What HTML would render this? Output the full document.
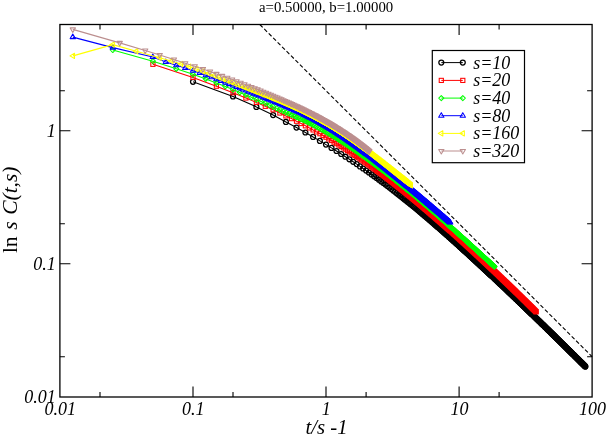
<!DOCTYPE html>
<html><head><meta charset="utf-8"><title>plot</title>
<style>html,body{margin:0;padding:0;background:#fff}body{width:607px;height:436px;overflow:hidden}svg{display:block;will-change:transform}text{font-family:"Liberation Serif",serif;fill:#000}.i{font-style:italic}</style></head><body>
<svg width="607" height="436" viewBox="0 0 607 436">
<rect width="607" height="436" fill="#fff"/>
<defs>
<marker id="mc" markerUnits="userSpaceOnUse" markerWidth="12" markerHeight="12" refX="0" refY="0" viewBox="-6 -6 12 12" overflow="visible"><circle r="2.45" fill="none" stroke="#000" stroke-width="1.3"/></marker>
<marker id="ms" markerUnits="userSpaceOnUse" markerWidth="12" markerHeight="12" refX="0" refY="0" viewBox="-6 -6 12 12" overflow="visible"><rect x="-2.08" y="-2.08" width="4.17" height="4.17" fill="none" stroke="#f00" stroke-width="1.05"/></marker>
<marker id="md" markerUnits="userSpaceOnUse" markerWidth="12" markerHeight="12" refX="0" refY="0" viewBox="-6 -6 12 12" overflow="visible"><path d="M0 -2.55L-2.55 0L0 2.55L2.55 0Z" stroke-linejoin="round" fill="none" stroke="#0f0" stroke-width="1.05"/></marker>
<marker id="mu" markerUnits="userSpaceOnUse" markerWidth="12" markerHeight="12" refX="0" refY="0" viewBox="-6 -6 12 12" overflow="visible"><path d="M0 -3.06L-2.65 1.53L2.65 1.53Z" stroke-linejoin="round" fill="none" stroke="#00f" stroke-width="1.05"/></marker>
<marker id="ml" markerUnits="userSpaceOnUse" markerWidth="12" markerHeight="12" refX="0" refY="0" viewBox="-6 -6 12 12" overflow="visible"><path d="M-3.06 0L1.53 -2.65L1.53 2.65Z" stroke-linejoin="round" fill="none" stroke="#ff0" stroke-width="1.05"/></marker>
<marker id="mn" markerUnits="userSpaceOnUse" markerWidth="12" markerHeight="12" refX="0" refY="0" viewBox="-6 -6 12 12" overflow="visible"><path d="M0 3.06L2.65 -1.53L-2.65 -1.53Z" stroke-linejoin="round" fill="none" stroke="#bc8f8f" stroke-width="1.05"/></marker>
<clipPath id="cp"><rect x="59.9" y="24.5" width="532.2" height="372.5"/></clipPath>
</defs>
<path d="M259.8 24.5L592.1 356.7" stroke="#000" stroke-width="1.1" stroke-dasharray="4 2.3" fill="none"/>
<g clip-path="url(#cp)" fill="none" stroke-width="1.1" stroke-linejoin="round">
<polyline points="193,81.8 233,96.4 256.4,106.9 273.1,115.1 285.9,121.9 296.5,127.6 305.4,132.5 313.1,136.9 319.9,140.9 326,144.6 331.5,147.9 336.5,151 341.2,154 345.4,156.7 349.4,159.3 353.2,161.8 356.7,164.1 360,166.4 363.1,168.5 366.1,170.6 368.9,172.5 371.6,174.4 374.1,176.3 376.6,178 378.9,179.7 381.2,181.4 383.4,183 385.5,184.6 387.5,186.1 389.5,187.6 391.4,189 393.2,190.4 395,191.8 396.7,193.2 398.4,194.5 400,195.7 401.6,197 403.1,198.2 404.6,199.4 406.1,200.6 407.5,201.7 408.9,202.8 410.3,203.9 411.6,205 412.9,206.1 414.2,207.1 415.4,208.1 416.6,209.1 417.8,210.1 419,211.1 420.1,212 421.3,213 422.4,213.9 423.4,214.8 424.5,215.7 425.5,216.6 426.6,217.4 427.6,218.3 428.6,219.1 429.5,220 430.5,220.8 431.4,221.6 432.4,222.4 433.3,223.1 434.2,223.9 435,224.7 435.9,225.4 436.8,226.2 437.6,226.9 438.4,227.6 439.3,228.3 440.1,229 440.9,229.7 441.7,230.4 442.4,231.1 443.2,231.8 443.9,232.4 444.7,233.1 445.4,233.7 446.2,234.4 446.9,235 447.6,235.6 448.3,236.3 449,236.9 449.7,237.5 450.3,238.1 451,238.7 451.7,239.3 452.3,239.8 453,240.4 453.6,241 454.2,241.5 454.9,242.1 455.5,242.7 456.1,243.2 456.7,243.7 457.3,244.3 457.9,244.8 458.5,245.3 459.1,245.9 459.6,246.4 460.2,246.9 460.8,247.4 461.3,247.9 461.9,248.4 462.4,248.9 463,249.4 463.5,249.9 464,250.4 464.6,250.9 465.1,251.3 465.6,251.8 466.1,252.3 466.6,252.7 467.1,253.2 467.6,253.6 468.1,254.1 468.6,254.5 469.1,255 469.6,255.4 470.1,255.9 470.5,256.3 471,256.7 471.5,257.2 471.9,257.6 472.4,258 472.9,258.4 473.3,258.9 473.8,259.3 474.2,259.7 474.7,260.1 475.1,260.5 475.5,260.9 476,261.3 476.4,261.7 476.8,262.1 477.2,262.5 477.7,262.9 478.1,263.2 478.5,263.6 478.9,264 479.3,264.4 479.7,264.8 480.1,265.1 480.5,265.5 480.9,265.9 481.3,266.2 481.7,266.6 482.1,267 482.5,267.3 482.9,267.7 483.2,268 483.6,268.4 484,268.7 484.4,269.1 484.7,269.4 485.1,269.8 485.5,270.1 485.8,270.4 486.2,270.8 486.6,271.1 486.9,271.4 487.3,271.8 487.6,272.1 488,272.4 488.3,272.8 488.7,273.1 489,273.4 489.4,273.7 489.7,274 490.1,274.4 490.4,274.7 490.7,275 491.1,275.3 491.4,275.6 491.7,275.9 492.4,276.5 493,277.1 493.7,277.7 494.3,278.3 494.9,278.9 495.5,279.5 496.1,280.1 496.7,280.6 497.3,281.2 497.9,281.8 498.5,282.3 499.1,282.9 499.7,283.4 500.2,283.9 500.8,284.5 501.4,285 501.9,285.5 502.5,286 503,286.5 503.5,287 504.1,287.5 504.6,288 505.1,288.5 505.7,289 506.2,289.5 506.7,290 507.2,290.5 507.7,291 508.2,291.4 508.7,291.9 509.2,292.4 509.6,292.8 510.1,293.3 510.6,293.7 511.1,294.2 511.5,294.6 512,295.1 512.5,295.5 512.9,295.9 513.4,296.4 513.8,296.8 514.3,297.2 514.7,297.6 515.1,298.1 515.6,298.5 516,298.9 516.4,299.3 516.9,299.7 517.3,300.1 517.7,300.5 518.1,300.9 518.5,301.3 519,301.7 519.4,302.1 519.8,302.5 520.2,302.9 520.6,303.2 521,303.6 521.4,304 521.8,304.4 522.1,304.7 522.5,305.1 522.9,305.5 523.3,305.9 523.7,306.2 524.1,306.6 524.4,306.9 524.8,307.3 525.2,307.6 525.5,308 525.9,308.4 526.3,308.7 526.6,309 527,309.4 527.3,309.7 527.7,310.1 528,310.4 528.4,310.7 528.7,311.1 529.1,311.4 529.4,311.7 529.8,312.1 530.1,312.4 530.4,312.7 530.8,313 531.1,313.4 531.4,313.7 531.8,314 532.1,314.3 532.4,314.6 532.9,315.1 533.4,315.6 533.9,316 534.3,316.5 534.8,316.9 535.3,317.4 535.7,317.8 536.2,318.3 536.6,318.7 537.1,319.2 537.5,319.6 538,320 538.4,320.4 538.9,320.9 539.3,321.3 539.7,321.7 540.2,322.1 540.6,322.5 541,322.9 541.4,323.4 541.8,323.8 542.2,324.2 542.7,324.6 543.1,324.9 543.5,325.3 543.9,325.7 544.3,326.1 544.7,326.5 545.1,326.9 545.4,327.3 545.8,327.6 546.2,328 546.6,328.4 547,328.8 547.4,329.1 547.7,329.5 548.1,329.9 548.5,330.2 548.8,330.6 549.2,330.9 549.6,331.3 549.9,331.6 550.3,332 550.6,332.3 551,332.7 551.4,333 551.7,333.4 552,333.7 552.4,334 552.7,334.4 553.1,334.7 553.4,335 553.8,335.4 554.1,335.7 554.4,336 554.8,336.4 555.1,336.7 555.4,337 555.7,337.3 556.1,337.6 556.4,338 556.8,338.4 557.2,338.8 557.7,339.2 558.1,339.6 558.5,340 558.9,340.4 559.3,340.8 559.7,341.2 560.1,341.6 560.5,342 560.9,342.4 561.3,342.8 561.7,343.2 562.1,343.6 562.5,343.9 562.9,344.3 563.3,344.7 563.6,345.1 564,345.4 564.4,345.8 564.8,346.2 565.1,346.5 565.5,346.9 565.9,347.3 566.2,347.6 566.6,348 566.9,348.3 567.3,348.7 567.7,349 568,349.4 568.4,349.7 568.7,350.1 569,350.4 569.4,350.7 569.7,351.1 570.1,351.4 570.4,351.7 570.7,352.1 571.1,352.4 571.4,352.7 571.7,353 572.1,353.4 572.4,353.7 572.7,354 573,354.3 573.4,354.6 573.8,355 574.2,355.4 574.5,355.8 574.9,356.2 575.3,356.6 575.7,357 576.1,357.3 576.5,357.7 576.8,358.1 577.2,358.5 577.6,358.8 578,359.2 578.3,359.6 578.7,359.9 579.1,360.3 579.4,360.6 579.8,361 580.1,361.4 580.5,361.7 580.8,362.1 581.2,362.4 581.5,362.7 581.9,363.1 582.2,363.4 582.6,363.8 582.9,364.1 583.3,364.4 583.6,364.8 583.9,365.1 584.3,365.4 584.6,365.8 584.9,366.1 585.2,366.4 585.4,366.6" stroke="#000000" marker-start="url(#mc)" marker-mid="url(#mc)" marker-end="url(#mc)"/>
<polyline points="152.9,64.3 193,77.4 216.4,86.2 233,92.7 245.9,98 256.4,102.4 265.3,106.3 273.1,109.8 279.9,113 285.9,115.9 291.5,118.6 296.5,121.2 301.1,123.5 305.4,125.8 309.4,127.9 313.1,129.9 316.6,131.9 319.9,133.7 323,135.5 326,137.2 328.8,138.9 331.5,140.5 334.1,142.1 336.5,143.6 338.9,145 341.2,146.4 343.3,147.8 345.4,149.1 347.5,150.5 349.4,151.7 351.3,153 353.2,154.2 354.9,155.4 356.7,156.5 358.3,157.7 360,158.8 361.5,159.9 363.1,160.9 364.6,162 366.1,163 367.5,164 368.9,165 370.2,166 371.6,166.9 372.9,167.9 374.1,168.8 375.4,169.7 376.6,170.6 377.8,171.5 378.9,172.3 380.1,173.2 381.2,174 382.3,174.8 383.4,175.6 384.5,176.4 385.5,177.2 386.5,178 387.5,178.8 388.5,179.5 389.5,180.2 390.4,181 391.4,181.7 392.3,182.4 393.2,183.1 394.1,183.8 395,184.5 395.9,185.2 396.7,185.9 397.6,186.5 398.4,187.2 399.2,187.8 400,188.5 400.8,189.1 401.6,189.7 402.4,190.3 403.1,190.9 403.9,191.5 404.6,192.1 405.4,192.7 406.1,193.3 406.8,193.9 407.5,194.5 408.2,195 408.9,195.6 409.6,196.1 410.3,196.7 411,197.2 411.6,197.8 412.3,198.3 412.9,198.8 413.5,199.4 414.2,199.9 414.8,200.4 415.4,200.9 416,201.4 416.6,201.9 417.2,202.4 417.8,202.9 418.4,203.4 419,203.9 419.6,204.3 420.1,204.8 420.7,205.3 421.3,205.8 421.8,206.2 422.4,206.7 422.9,207.1 423.4,207.6 424,208 424.5,208.5 425,208.9 425.5,209.4 426.1,209.8 426.6,210.2 427.1,210.7 427.6,211.1 428.1,211.5 428.6,211.9 429,212.3 429.5,212.7 430,213.2 430.5,213.6 431,214 431.4,214.4 431.9,214.8 432.4,215.2 432.8,215.5 433.3,215.9 433.7,216.3 434.2,216.7 434.6,217.1 435,217.5 435.5,217.8 435.9,218.2 436.3,218.6 436.8,219 437.2,219.3 437.6,219.7 438,220 438.4,220.4 438.9,220.8 439.3,221.1 439.7,221.5 440.1,221.8 440.5,222.2 440.9,222.5 441.3,222.9 441.7,223.2 442,223.5 442.4,223.9 442.8,224.2 443.2,224.6 443.6,224.9 443.9,225.2 444.3,225.5 444.7,225.9 445.1,226.2 445.4,226.5 445.8,226.8 446.2,227.2 446.5,227.5 446.9,227.8 447.2,228.1 447.6,228.4 447.9,228.7 448.3,229 448.6,229.3 449,229.6 449.3,229.9 449.7,230.2 450,230.5 450.3,230.8 451,231.4 451.7,232 452.3,232.6 453,233.2 453.6,233.8 454.2,234.3 454.9,234.9 455.5,235.4 456.1,236 456.7,236.5 457.3,237.1 457.9,237.6 458.5,238.1 459.1,238.6 459.6,239.2 460.2,239.7 460.8,240.2 461.3,240.7 461.9,241.2 462.4,241.7 463,242.2 463.5,242.7 464,243.1 464.6,243.6 465.1,244.1 465.6,244.6 466.1,245 466.6,245.5 467.1,246 467.6,246.4 468.1,246.9 468.6,247.3 469.1,247.8 469.6,248.2 470.1,248.6 470.5,249.1 471,249.5 471.5,249.9 471.9,250.4 472.4,250.8 472.9,251.2 473.3,251.6 473.8,252 474.2,252.5 474.7,252.9 475.1,253.3 475.5,253.7 476,254.1 476.4,254.5 476.8,254.9 477.2,255.3 477.7,255.6 478.1,256 478.5,256.4 478.9,256.8 479.3,257.2 479.7,257.5 480.1,257.9 480.5,258.3 480.9,258.7 481.3,259 481.7,259.4 482.1,259.8 482.5,260.1 482.9,260.5 483.2,260.8 483.6,261.2 484,261.5 484.4,261.9 484.7,262.2 485.1,262.6 485.5,262.9 485.8,263.3 486.2,263.6 486.6,263.9 486.9,264.3 487.3,264.6 487.6,264.9 488,265.3 488.3,265.6 488.7,265.9 489,266.3 489.4,266.6 489.7,266.9 490.1,267.2 490.4,267.5 490.7,267.8 491.1,268.2 491.4,268.5 491.7,268.8 492,269.1 492.5,269.6 493,270 493.5,270.5 494,270.9 494.4,271.4 494.9,271.8 495.4,272.2 495.8,272.7 496.3,273.1 496.7,273.5 497.2,274 497.6,274.4 498.1,274.8 498.5,275.2 499,275.7 499.4,276.1 499.8,276.5 500.2,276.9 500.7,277.3 501.1,277.7 501.5,278.1 501.9,278.5 502.3,278.9 502.7,279.3 503.1,279.7 503.5,280 503.9,280.4 504.3,280.8 504.7,281.2 505.1,281.6 505.5,281.9 505.9,282.3 506.3,282.7 506.7,283 507.1,283.4 507.4,283.8 507.8,284.1 508.2,284.5 508.5,284.8 508.9,285.2 509.3,285.5 509.6,285.9 510,286.2 510.4,286.6 510.7,286.9 511.1,287.3 511.4,287.6 511.8,287.9 512.1,288.3 512.5,288.6 512.8,289 513.1,289.3 513.5,289.6 513.8,289.9 514.2,290.3 514.5,290.6 514.8,290.9 515.1,291.2 515.5,291.5 515.8,291.9 516.1,292.2 516.5,292.6 517,293 517.4,293.4 517.8,293.8 518.2,294.2 518.6,294.6 519.1,295 519.5,295.4 519.9,295.8 520.3,296.2 520.7,296.6 521.1,297 521.5,297.4 521.9,297.8 522.2,298.1 522.6,298.5 523,298.9 523.4,299.3 523.8,299.6 524.1,300 524.5,300.4 524.9,300.7 525.3,301.1 525.6,301.4 526,301.8 526.4,302.2 526.7,302.5 527.1,302.9 527.4,303.2 527.8,303.6 528.1,303.9 528.5,304.2 528.8,304.6 529.2,304.9 529.5,305.3 529.8,305.6 530.2,305.9 530.5,306.3 530.9,306.6 531.2,306.9 531.5,307.2 531.8,307.6 532.2,307.9 532.5,308.2 532.8,308.5 533.1,308.9 533.5,309.2 533.9,309.6 534.3,310 534.7,310.4 535.1,310.8 535.5,311.2 535.9,311.6 536.1,311.8" stroke="#ff0000" marker-start="url(#ms)" marker-mid="url(#ms)" marker-end="url(#ms)"/>
<polyline points="112.8,50 152.9,61.2 176.3,68.8 193,74.3 205.8,78.9 216.4,82.9 225.3,86.4 233,89.5 239.8,92.4 245.9,94.9 251.4,97.3 256.4,99.5 261.1,101.5 265.3,103.3 269.3,105.1 273.1,106.8 276.6,108.3 279.9,109.8 283,111.2 285.9,112.5 288.8,113.7 291.5,114.9 294,116 296.5,117 298.8,118.1 301.1,119.1 303.3,120.1 305.4,121 307.4,122 309.4,123 311.3,123.9 313.1,124.8 314.9,125.7 316.6,126.6 318.3,127.5 319.9,128.4 321.5,129.3 323,130.1 324.5,131 326,131.8 327.4,132.7 328.8,133.5 330.2,134.3 331.5,135.1 332.8,135.9 334.1,136.6 335.3,137.4 336.5,138.1 337.7,138.9 338.9,139.6 340,140.3 341.2,141.1 342.3,141.8 343.3,142.5 344.4,143.2 345.4,143.8 346.5,144.5 347.5,145.2 348.5,145.8 349.4,146.5 350.4,147.1 351.3,147.7 352.2,148.4 353.2,149 354.1,149.6 354.9,150.2 355.8,150.8 356.7,151.4 357.5,152 358.3,152.6 359.2,153.1 360,153.7 360.8,154.3 361.5,154.8 362.3,155.4 363.1,155.9 363.8,156.4 364.6,157 365.3,157.5 366.1,158 366.8,158.5 367.5,159 368.2,159.6 368.9,160.1 369.6,160.5 370.2,161 370.9,161.5 371.6,162 372.2,162.5 372.9,163 373.5,163.4 374.1,163.9 374.8,164.4 375.4,164.8 376,165.3 376.6,165.7 377.2,166.2 377.8,166.6 378.4,167 378.9,167.5 379.5,167.9 380.1,168.3 380.7,168.8 381.2,169.2 381.8,169.6 382.3,170 382.9,170.4 383.4,170.8 383.9,171.2 384.5,171.6 385,172 385.5,172.4 386,172.8 386.5,173.2 387,173.6 387.5,174 388,174.4 388.5,174.7 389,175.1 389.5,175.5 390,175.9 390.4,176.2 390.9,176.6 391.4,177 391.8,177.3 392.3,177.7 392.8,178 393.2,178.4 393.7,178.7 394.1,179.1 394.5,179.4 395,179.8 395.4,180.1 395.9,180.5 396.3,180.8 396.7,181.1 397.1,181.5 397.6,181.8 398,182.1 398.4,182.5 398.8,182.8 399.2,183.1 399.6,183.5 400,183.8 400.4,184.1 400.8,184.4 401.2,184.7 401.6,185 402,185.4 402.4,185.7 402.8,186 403.1,186.3 403.5,186.6 403.9,186.9 404.3,187.2 404.6,187.5 405,187.8 405.4,188.1 405.7,188.4 406.1,188.7 406.5,189 406.8,189.3 407.2,189.6 407.5,189.8 407.9,190.1 408.2,190.4 408.9,191 409.6,191.6 410.3,192.1 411,192.7 411.6,193.2 412.3,193.7 412.9,194.3 413.5,194.8 414.2,195.3 414.8,195.9 415.4,196.4 416,196.9 416.6,197.4 417.2,197.9 417.8,198.4 418.4,198.9 419,199.4 419.6,199.9 420.1,200.3 420.7,200.8 421.3,201.3 421.8,201.8 422.4,202.2 422.9,202.7 423.4,203.1 424,203.6 424.5,204 425,204.5 425.5,204.9 426.1,205.4 426.6,205.8 427.1,206.2 427.6,206.7 428.1,207.1 428.6,207.5 429,207.9 429.5,208.3 430,208.8 430.5,209.2 431,209.6 431.4,210 431.9,210.4 432.4,210.8 432.8,211.2 433.3,211.6 433.7,212 434.2,212.4 434.6,212.7 435,213.1 435.5,213.5 435.9,213.9 436.3,214.3 436.8,214.6 437.2,215 437.6,215.4 438,215.7 438.4,216.1 438.9,216.5 439.3,216.8 439.7,217.2 440.1,217.5 440.5,217.9 440.9,218.2 441.3,218.6 441.7,218.9 442,219.3 442.4,219.6 442.8,219.9 443.2,220.3 443.6,220.6 443.9,220.9 444.3,221.3 444.7,221.6 445.1,221.9 445.4,222.3 445.8,222.6 446.2,222.9 446.5,223.2 446.9,223.5 447.2,223.8 447.6,224.2 447.9,224.5 448.3,224.8 448.6,225.1 449,225.4 449.3,225.7 449.7,226 450,226.3 450.3,226.6 450.8,227.1 451.3,227.5 451.8,227.9 452.3,228.4 452.8,228.8 453.3,229.2 453.8,229.7 454.2,230.1 454.7,230.5 455.2,230.9 455.6,231.3 456.1,231.8 456.5,232.2 457,232.6 457.4,233 457.9,233.4 458.3,233.8 458.8,234.2 459.2,234.5 459.6,234.9 460.1,235.3 460.5,235.7 460.9,236.1 461.3,236.5 461.7,236.8 462.1,237.2 462.6,237.6 463,237.9 463.4,238.3 463.8,238.7 464.2,239 464.6,239.4 464.9,239.7 465.3,240.1 465.7,240.4 466.1,240.8 466.5,241.1 466.9,241.5 467.3,241.8 467.6,242.2 468,242.5 468.4,242.8 468.7,243.2 469.1,243.5 469.5,243.8 469.8,244.2 470.2,244.5 470.5,244.8 470.9,245.1 471.2,245.4 471.6,245.8 471.9,246.1 472.3,246.4 472.6,246.7 473,247 473.3,247.3 473.7,247.6 474,247.9 474.3,248.2 474.8,248.6 475.2,249 475.6,249.4 476.1,249.8 476.5,250.2 476.9,250.6 477.3,251 477.8,251.4 478.2,251.8 478.6,252.1 479,252.5 479.4,252.9 479.8,253.2 480.2,253.6 480.6,254 481,254.3 481.4,254.7 481.8,255.1 482.2,255.4 482.6,255.8 483,256.1 483.3,256.5 483.7,256.8 484.1,257.1 484.5,257.5 484.8,257.8 485.2,258.2 485.6,258.5 485.9,258.8 486.3,259.2 486.7,259.5 487,259.8 487.4,260.1 487.7,260.5 488.1,260.8 488.4,261.1 488.8,261.4 489.1,261.7 489.5,262 489.8,262.4 490.1,262.7 490.5,263 490.8,263.3 491.1,263.6 491.6,264 492,264.3 492.4,264.7 492.8,265.1 493.2,265.4 493.6,265.8 494,266.2 494.4,266.5 494.5,266.6" stroke="#00ff00" marker-start="url(#md)" marker-mid="url(#md)" marker-end="url(#md)"/>
<polyline points="72.8,37.1 112.8,47.6 152.8,57 165.8,62 176.3,65.2 185.2,68 193,70.7 199.8,73 205.8,75.2 211.4,77.3 216.4,79.2 221,80.9 225.3,82.6 229.3,84.1 233,85.5 236.5,86.9 239.8,88.2 242.9,89.4 245.9,90.5 248.7,91.6 251.4,92.7 254,93.7 256.4,94.6 258.8,95.5 261.1,96.4 263.2,97.3 265.3,98.1 267.4,98.9 269.3,99.7 271.2,100.5 273.1,101.2 274.8,101.9 276.6,102.6 278.2,103.3 279.9,104 281.4,104.7 283,105.3 284.5,105.9 285.9,106.6 287.4,107.2 288.8,107.8 290.1,108.4 291.5,108.9 292.8,109.5 294,110.1 295.3,110.6 296.5,111.2 297.7,111.7 298.8,112.3 300,112.8 301.1,113.3 302.2,113.8 303.3,114.4 304.3,114.9 305.4,115.4 306.4,115.9 307.4,116.4 308.4,116.9 309.4,117.4 310.3,117.8 311.3,118.3 312.2,118.8 313.1,119.3 314,119.7 314.9,120.2 315.8,120.7 316.6,121.1 317.5,121.6 318.3,122 319.1,122.5 319.9,122.9 320.7,123.4 321.5,123.8 322.3,124.2 323,124.7 323.8,125.1 324.5,125.5 325.3,126 326,126.4 326.7,126.8 327.4,127.2 328.1,127.7 328.8,128.1 329.5,128.5 330.2,128.9 330.8,129.3 331.5,129.7 332.2,130.1 332.8,130.5 333.4,130.9 334.1,131.3 334.7,131.7 335.3,132.1 335.9,132.5 336.5,132.9 337.1,133.3 337.7,133.7 338.3,134.1 338.9,134.4 339.5,134.8 340,135.2 340.6,135.6 341.2,135.9 341.7,136.3 342.3,136.7 342.8,137 343.3,137.4 343.9,137.8 344.4,138.1 344.9,138.5 345.4,138.8 346,139.2 346.5,139.5 347,139.9 347.5,140.2 348,140.6 348.5,140.9 348.9,141.2 349.4,141.6 349.9,141.9 350.4,142.3 350.9,142.6 351.3,142.9 351.8,143.2 352.2,143.6 352.7,143.9 353.2,144.2 353.6,144.5 354.1,144.9 354.5,145.2 354.9,145.5 355.4,145.8 355.8,146.1 356.2,146.4 356.7,146.7 357.1,147 357.5,147.3 357.9,147.6 358.3,147.9 358.7,148.2 359.2,148.5 359.6,148.8 360,149.1 360.4,149.4 360.8,149.7 361.2,150 361.5,150.3 361.9,150.6 362.3,150.9 362.7,151.2 363.1,151.4 363.5,151.7 363.8,152 364.2,152.3 364.6,152.6 365,152.8 365.3,153.1 365.7,153.4 366.1,153.7 366.8,154.2 367.5,154.7 368.2,155.2 368.9,155.8 369.6,156.3 370.2,156.8 370.9,157.3 371.6,157.8 372.2,158.3 372.9,158.8 373.5,159.3 374.1,159.8 374.8,160.2 375.4,160.7 376,161.2 376.6,161.7 377.2,162.1 377.8,162.6 378.4,163 378.9,163.5 379.5,163.9 380.1,164.4 380.7,164.8 381.2,165.2 381.8,165.7 382.3,166.1 382.9,166.5 383.4,166.9 383.9,167.4 384.5,167.8 385,168.2 385.5,168.6 386,169 386.5,169.4 387,169.8 387.5,170.2 388,170.6 388.5,171 389,171.4 389.5,171.7 390,172.1 390.4,172.5 390.9,172.9 391.4,173.2 391.8,173.6 392.3,174 392.8,174.4 393.2,174.7 393.7,175.1 394.1,175.4 394.5,175.8 395,176.1 395.4,176.5 395.9,176.8 396.3,177.2 396.7,177.5 397.1,177.9 397.6,178.2 398,178.5 398.4,178.9 398.8,179.2 399.2,179.5 399.6,179.9 400,180.2 400.4,180.5 400.8,180.8 401.2,181.2 401.6,181.5 402,181.8 402.4,182.1 402.8,182.4 403.1,182.7 403.5,183.1 403.9,183.4 404.3,183.7 404.6,184 405,184.3 405.4,184.6 405.7,184.9 406.1,185.2 406.5,185.5 406.8,185.8 407.2,186.1 407.5,186.3 407.9,186.6 408.2,186.9 408.8,187.3 409.3,187.8 409.8,188.2 410.3,188.6 410.8,189 411.3,189.4 411.8,189.8 412.3,190.3 412.7,190.7 413.2,191.1 413.7,191.5 414.2,191.8 414.6,192.2 415.1,192.6 415.6,193 416,193.4 416.5,193.8 416.9,194.1 417.4,194.5 417.8,194.9 418.3,195.3 418.7,195.6 419.1,196 419.6,196.3 420,196.7 420.4,197.1 420.8,197.4 421.3,197.8 421.7,198.1 422.1,198.5 422.5,198.8 422.9,199.2 423.3,199.5 423.7,199.8 424.1,200.2 424.5,200.5 424.9,200.8 425.3,201.2 425.7,201.5 426.1,201.8 426.4,202.1 426.8,202.5 427.2,202.8 427.6,203.1 427.9,203.4 428.3,203.7 428.7,204 429,204.3 429.4,204.7 429.8,205 430.1,205.3 430.5,205.6 430.8,205.9 431.2,206.2 431.5,206.5 431.9,206.8 432.2,207.1 432.6,207.4 433,207.7 433.5,208.1 433.9,208.5 434.4,208.9 434.8,209.3 435.3,209.6 435.7,210 436.1,210.4 436.6,210.7 437,211.1 437.4,211.5 437.8,211.8 438.2,212.2 438.6,212.5 439.1,212.9 439.5,213.2 439.9,213.6 440.3,213.9 440.7,214.3 441.1,214.6 441.5,215 441.8,215.3 442.2,215.6 442.6,216 443,216.3 443.4,216.6 443.8,216.9 444.1,217.3 444.5,217.6 444.9,217.9 445.2,218.2 445.6,218.5 446,218.8 446.3,219.2 446.7,219.5 447.1,219.8 447.4,220.1 447.8,220.4 448.1,220.7 448.5,221 448.8,221.3 449.1,221.6 449.5,221.9 449.9,222.3 450.2,222.5" stroke="#0000ff" marker-start="url(#mu)" marker-mid="url(#mu)" marker-end="url(#mu)"/>
<polyline points="73,55.9 112.8,44.6 136.3,51.2 159.7,57.7 171.3,61 181,64 189.2,66.6 196.5,69.1 202.9,71.3 208.7,73.5 213.9,75.5 218.7,77.3 223.2,79.1 227.3,80.7 231.2,82.2 234.8,83.7 238.2,85 241.4,86.2 244.4,87.4 247.3,88.5 250.1,89.6 252.7,90.6 255.2,91.6 257.6,92.5 259.9,93.4 262.2,94.3 264.3,95.1 266.4,95.9 268.4,96.7 270.3,97.5 272.1,98.2 273.9,99 275.7,99.7 277.4,100.4 279.1,101 280.7,101.7 282.2,102.4 283.7,103 285.2,103.6 286.7,104.3 288.1,104.9 289.5,105.5 290.8,106.1 292.1,106.6 293.4,107.2 294.6,107.8 295.9,108.3 297.1,108.9 298.3,109.4 299.4,110 300.5,110.5 301.7,111 302.8,111.6 303.8,112.1 304.9,112.6 305.9,113.1 306.9,113.6 307.9,114.1 308.9,114.6 309.9,115.1 310.8,115.5 311.7,116 312.7,116.5 313.6,117 314.4,117.4 315.3,117.9 316.2,118.3 317,118.8 317.9,119.2 318.7,119.7 319.5,120.1 320.3,120.6 321.1,121 321.9,121.4 322.7,121.8 323.4,122.3 324.2,122.7 324.9,123.1 325.6,123.5 326.4,123.9 327.1,124.3 327.8,124.7 328.5,125.1 329.2,125.5 329.8,125.9 330.5,126.3 331.2,126.7 331.8,127.1 332.5,127.5 333.1,127.9 333.8,128.3 334.4,128.6 335,129 335.6,129.4 336.2,129.8 336.8,130.1 337.4,130.5 338,130.9 338.6,131.2 339.2,131.6 339.8,132 340.3,132.3 340.9,132.7 341.4,133 342,133.4 342.5,133.7 343.1,134.1 343.6,134.4 344.1,134.8 344.7,135.1 345.2,135.5 345.7,135.8 346.2,136.1 346.7,136.5 347.2,136.8 347.7,137.1 348.2,137.5 348.7,137.8 349.2,138.1 349.7,138.5 350.1,138.8 350.6,139.1 351.1,139.4 351.6,139.7 352,140.1 352.5,140.4 352.9,140.7 353.4,141 353.8,141.3 354.3,141.6 354.7,141.9 355.2,142.2 355.6,142.6 356,142.9 356.4,143.2 356.9,143.5 357.3,143.8 357.7,144.1 358.1,144.4 358.5,144.7 359,144.9 359.4,145.2 359.8,145.5 360.2,145.8 360.6,146.1 361,146.4 361.4,146.7 361.7,147 362.1,147.2 362.5,147.5 362.9,147.8 363.3,148.1 363.7,148.4 364,148.6 364.4,148.9 364.8,149.2 365.1,149.5 365.5,149.7 365.9,150 366.6,150.5 367.3,151.1 368,151.6 368.7,152.1 369.4,152.6 370.1,153.1 370.7,153.6 371.4,154.2 372,154.6 372.7,155.1 373.3,155.6 374,156.1 374.6,156.6 375.2,157.1 375.8,157.5 376.4,158 377,158.5 377.6,158.9 378.2,159.4 378.8,159.8 379.4,160.3 379.9,160.7 380.5,161.2 381.1,161.6 381.6,162 382.2,162.5 382.7,162.9 383.3,163.3 383.8,163.7 384.3,164.2 384.8,164.6 385.4,165 385.9,165.4 386.4,165.8 386.9,166.2 387.4,166.6 387.9,167 388.4,167.4 388.9,167.7 389.4,168.1 389.8,168.5 390.3,168.9 390.8,169.3 391.3,169.6 391.7,170 392.2,170.4 392.6,170.7 393.1,171.1 393.5,171.5 394,171.8 394.4,172.2 394.9,172.5 395.3,172.9 395.7,173.2 396.2,173.6 396.6,173.9 397,174.2 397.5,174.6 397.9,174.9 398.3,175.2 398.7,175.6 399.1,175.9 399.5,176.2 399.9,176.5 400.3,176.9 400.7,177.2 401.1,177.5 401.5,177.8 401.9,178.1 402.3,178.4 402.7,178.7 403,179 403.4,179.3 403.8,179.6 404.2,179.9 404.5,180.2 404.9,180.5 405.3,180.8 405.7,181.1 406,181.4 406.4,181.7 406.7,182 407.1,182.3 407.4,182.6 408,183 408.5,183.4 409,183.8 409.5,184.2 410,184.6 410.5,185 411,185.4" stroke="#ffff00" marker-start="url(#ml)" marker-mid="url(#ml)" marker-end="url(#ml)"/>
<polyline points="72.8,29.4 119.7,42.9 145.2,50.5 159.7,55 173.9,59.5 185.2,63.2 194.7,66.3 202.9,69.1 210,71.6 216.4,73.9 222.1,75.9 227.3,77.8 232.1,79.6 236.5,81.2 240.6,82.8 244.4,84.3 248,85.7 251.4,87 254.6,88.2 257.6,89.4 260.5,90.6 263.2,91.7 265.9,92.8 268.4,93.8 270.8,94.8 273.1,95.8 275.3,96.7 277.4,97.6 279.5,98.5 281.4,99.3 283.4,100.2 285.2,101 287,101.8 288.8,102.6 290.5,103.3 292.1,104.1 293.7,104.8 295.3,105.5 296.8,106.2 298.3,106.9 299.7,107.6 301.1,108.3 302.5,108.9 303.8,109.6 305.1,110.2 306.4,110.9 307.7,111.5 308.9,112.1 310.1,112.7 311.3,113.3 312.4,113.9 313.6,114.5 314.7,115.1 315.8,115.6 316.8,116.2 317.9,116.8 318.9,117.3 319.9,117.9 320.9,118.4 321.9,119 322.8,119.5 323.8,120 324.7,120.6 325.6,121.1 326.5,121.6 327.4,122.1 328.3,122.6 329.2,123.1 330,123.6 330.8,124.1 331.7,124.6 332.5,125.1 333.3,125.6 334.1,126.1 334.9,126.5 335.6,127 336.4,127.5 337.1,128 337.9,128.4 338.6,128.9 339.3,129.3 340,129.8 340.7,130.3 341.4,130.7 342.1,131.2 342.8,131.6 343.5,132 344.1,132.5 344.8,132.9 345.4,133.4 346.1,133.8 346.7,134.2 347.3,134.7 348,135.1 348.6,135.5 349.2,135.9 349.8,136.3 350.4,136.8 351,137.2 351.6,137.6 352.1,138 352.7,138.4 353.3,138.8 353.8,139.2 354.4,139.6 354.9,140 355.5,140.4 356,140.8 356.6,141.2 357.1,141.6 357.6,142 358.1,142.4 358.6,142.8 359.2,143.2 359.7,143.6 360.2,144 360.7,144.3 361.2,144.7 361.6,145.1 362.1,145.5 362.6,145.8 363.1,146.2 363.6,146.6 364,147 364.5,147.3 365,147.7 365.4,148.1 365.9,148.4 366.3,148.8 366.8,149.2 367.2,149.5 367.7,149.9 368.1,150.3 368.5,150.6 369,151 369.3,151.3" stroke="#bc8f8f" marker-start="url(#mn)" marker-mid="url(#mn)" marker-end="url(#mn)"/>
</g>
<g stroke="#000" stroke-width="1.3" fill="none">
<rect x="59.9" y="24.5" width="532.2" height="372.5"/>
<path d="M100.0 397.0v-5M100.0 24.5v5M193.0 397.0v-10.5M193.0 24.5v10.5M233.0 397.0v-5M233.0 24.5v5M326.0 397.0v-10.5M326.0 24.5v10.5M366.1 397.0v-5M366.1 24.5v5M459.1 397.0v-10.5M459.1 24.5v10.5M499.1 397.0v-5M499.1 24.5v5M59.9 356.7h5M592.1 356.7h-5M59.9 263.7h10.5M592.1 263.7h-10.5M59.9 223.7h5M592.1 223.7h-5M59.9 130.7h10.5M592.1 130.7h-10.5M59.9 90.7h5M592.1 90.7h-5" stroke-width="1.1"/>
</g>
<g class="i" font-size="18">
<text x="60.2" y="414.8" text-anchor="middle">0.01</text>
<text x="193.3" y="414.8" text-anchor="middle">0.1</text>
<text x="326.3" y="414.8" text-anchor="middle">1</text>
<text x="459.4" y="414.8" text-anchor="middle">10</text>
<text x="592.4" y="414.8" text-anchor="middle">100</text>
<text x="55.8" y="402.9" text-anchor="end">0.01</text>
<text x="55.8" y="269.9" text-anchor="end">0.1</text>
<text x="55.8" y="136.9" text-anchor="end">1</text>
</g>
<text class="i" x="326.6" y="433.7" font-size="20.8" text-anchor="middle">t/s -1</text>
<text transform="translate(17.2 209.8) rotate(-90)" font-size="21.5" word-spacing="1.2" text-anchor="middle">ln <tspan class="i">s C(t,s)</tspan></text>
<text x="326.1" y="11.8" font-size="14.8" text-anchor="middle">a=0.50000, b=1.00000</text>
<rect x="432.3" y="50.5" width="92.2" height="112.2" fill="#fff" stroke="#000" stroke-width="1.2"/>
<path d="M441.3 62.6H462.8" stroke="#000000" stroke-width="1" fill="none" marker-start="url(#mc)" marker-end="url(#mc)"/>
<text class="i" x="473.2" y="68.5" font-size="18">s=10</text>
<path d="M441.3 80.4H462.8" stroke="#ff0000" stroke-width="1" fill="none" marker-start="url(#ms)" marker-end="url(#ms)"/>
<text class="i" x="473.2" y="86.3" font-size="18">s=20</text>
<path d="M441.3 98.1H462.8" stroke="#00ff00" stroke-width="1" fill="none" marker-start="url(#md)" marker-end="url(#md)"/>
<text class="i" x="473.2" y="104.0" font-size="18">s=40</text>
<path d="M441.3 115.7H462.8" stroke="#0000ff" stroke-width="1" fill="none" marker-start="url(#mu)" marker-end="url(#mu)"/>
<text class="i" x="473.2" y="121.6" font-size="18">s=80</text>
<path d="M441.3 133.4H462.8" stroke="#ffff00" stroke-width="1" fill="none" marker-start="url(#ml)" marker-end="url(#ml)"/>
<text class="i" x="473.2" y="139.3" font-size="18">s=160</text>
<path d="M441.3 151.0H462.8" stroke="#bc8f8f" stroke-width="1" fill="none" marker-start="url(#mn)" marker-end="url(#mn)"/>
<text class="i" x="473.2" y="156.9" font-size="18">s=320</text>
</svg>
</body></html>
